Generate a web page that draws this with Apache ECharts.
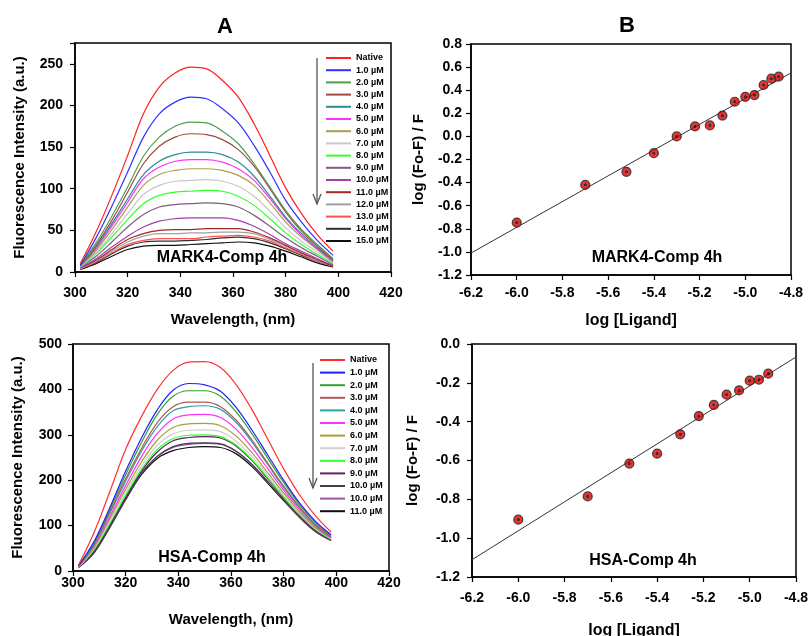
<!DOCTYPE html>
<html><head><meta charset="utf-8">
<script src="https://cdn.jsdelivr.net/npm/echarts@6/dist/echarts.min.js"></script>
<style>html,body{margin:0;padding:0;background:#fff}#c{width:809px;height:636px}</style>
</head><body><div id="c"></div>
<script>
// ---------- DATA ----------
const wavelengths = [302, 308, 314, 320, 326, 332, 338, 344, 350, 356, 362, 368, 374, 380, 386, 392, 398];

const markLabels = ['Native', '1.0 µM', '2.0 µM', '3.0 µM', '4.0 µM', '5.0 µM', '6.0 µM', '7.0 µM', '8.0 µM', '9.0 µM', '10.0 µM', '11.0 µM', '12.0 µM', '13.0 µM', '14.0 µM', '15.0 µM'];
const mkNative = [10, 48, 92, 140, 190, 222, 239, 246, 244, 230, 210, 178, 140, 101, 70, 45, 25];
const mk01 = [8, 41, 79, 120, 162, 190, 204, 210, 208, 196, 179, 152, 120, 86, 60, 38, 20];
const mk02 = [8, 35, 67, 102, 139, 162, 175, 180, 179, 169, 154, 130, 102, 74, 51, 33, 16];
const mk03 = [8, 32, 62, 96, 130, 151, 162, 166, 165, 159, 147, 127, 100, 72, 49, 31, 15];
const mk04 = [7, 30, 58, 88, 117, 133, 141, 144, 144, 141, 132, 115, 91, 66, 46, 29, 14];
const mk05 = [7, 28, 55, 84, 112, 126, 133, 135, 135, 132, 124, 110, 88, 64, 44, 28, 13];
const mk06 = [7, 26, 51, 78, 104, 117, 122, 124, 124, 122, 116, 104, 83, 60, 42, 27, 12];
const mk07 = [6, 24, 46, 70, 93, 104, 109, 110, 111, 109, 103, 91, 73, 53, 37, 24, 11];
const mk08 = [6, 22, 42, 63, 82, 92, 96, 97, 98, 97, 91, 80, 64, 47, 33, 21, 10];
const mk09 = [6, 19, 36, 54, 69, 78, 81, 82, 83, 82, 78, 68, 55, 41, 29, 19, 9];
const mk10 = [5, 16, 30, 43, 54, 61, 64, 65, 65, 65, 62, 55, 45, 34, 25, 16, 8];
const mk11 = [5, 14, 27, 39, 46, 50, 51, 51, 52, 52, 52, 48, 41, 32, 23, 15, 7];
const mk12 = [4, 13, 25, 36, 43, 46, 46, 47, 47, 48, 48, 46, 39, 31, 22, 14, 7];
const mk13 = [4, 12, 23, 33, 38, 40, 40, 40, 42, 43, 44, 42, 37, 29, 21, 13, 7];
const mk14 = [4, 11, 22, 31, 36, 37, 37, 38, 39, 41, 42, 40, 35, 28, 20, 13, 6];
const mk15 = [3, 10, 19, 27, 31, 32, 32, 33, 34, 35, 36, 35, 31, 25, 18, 11, 6];

const hsaLabels = ['Native', '1.0 µM', '2.0 µM', '3.0 µM', '4.0 µM', '5.0 µM', '6.0 µM', '7.0 µM', '8.0 µM', '9.0 µM', '10.0 µM', '10.0 µM', '11.0 µM'];
const hsNative = [12, 85, 175, 268, 340, 400, 442, 460, 461, 448, 410, 355, 290, 225, 168, 122, 86];
const hs01 = [11, 65, 140, 220, 293, 355, 398, 413, 410, 396, 360, 310, 255, 200, 150, 110, 80];
const hs02 = [10, 62, 135, 212, 283, 345, 385, 397, 397, 385, 350, 302, 248, 195, 146, 107, 78];
const hs03 = [10, 60, 130, 203, 270, 327, 362, 372, 372, 362, 332, 288, 237, 187, 141, 103, 76];
const hs04 = [10, 58, 127, 198, 264, 318, 353, 362, 364, 356, 327, 284, 234, 184, 139, 102, 75];
const hs05 = [9, 55, 120, 188, 252, 303, 335, 344, 345, 338, 312, 272, 225, 178, 135, 99, 73];
const hs06 = [9, 52, 115, 180, 240, 288, 316, 324, 325, 320, 297, 260, 216, 172, 130, 96, 72];
const hs07 = [8, 50, 110, 173, 231, 277, 302, 310, 311, 307, 286, 252, 210, 167, 127, 94, 71];
const hs08 = [8, 47, 105, 167, 224, 268, 292, 299, 300, 296, 277, 245, 205, 163, 124, 92, 70];
const hs09 = [8, 45, 102, 163, 220, 262, 287, 294, 296, 293, 275, 243, 203, 162, 123, 91, 69];
const hs10a = [7, 42, 99, 160, 216, 253, 274, 281, 282, 280, 264, 235, 197, 158, 120, 89, 68];
const hs10b = [7, 42, 98, 159, 215, 252, 272, 279, 281, 279, 263, 234, 196, 157, 119, 88, 67];
const hs11 = [7, 40, 96, 157, 212, 248, 265, 272, 274, 272, 258, 230, 193, 155, 118, 87, 67];

const ligandMark = [-6.0, -5.70, -5.52, -5.40, -5.30, -5.22, -5.155, -5.10, -5.046, -5.0, -4.96, -4.92, -4.886, -4.854];
const quenchMark = [-0.746, -0.42, -0.307, -0.145, 0.0, 0.086, 0.095, 0.18, 0.30, 0.343, 0.358, 0.445, 0.50, 0.517];
const fitMarkX = [-6.2, -4.8];
const fitMarkY = [-1.01, 0.55];

const ligandHsa = [-6.0, -5.70, -5.52, -5.40, -5.30, -5.22, -5.155, -5.10, -5.046, -5.0, -4.96, -4.92];
const quenchHsa = [-0.905, -0.785, -0.616, -0.565, -0.465, -0.371, -0.314, -0.261, -0.239, -0.189, -0.184, -0.153];
const fitHsaX = [-6.2, -4.8];
const fitHsaY = [-1.111, -0.067];

// ---------- STYLES ----------
const markColors = ['#ff2020', '#3030ff', '#4e9e4e', '#a04848', '#2a8c8c', '#ff30ff', '#a8a050', '#c8c8c8', '#30ff30', '#805a80', '#a040a8', '#a02828', '#a0a0a0', '#ff5050', '#303030', '#101010'];
const hsaColors = ['#ff3030', '#2020ff', '#30a030', '#b05858', '#30a0a0', '#ff30ff', '#a8a030', '#d0d0d0', '#30ff30', '#602060', '#404040', '#a050a8', '#101010'];
const markSpectra = [mkNative, mk01, mk02, mk03, mk04, mk05, mk06, mk07, mk08, mk09, mk10, mk11, mk12, mk13, mk14, mk15];
const hsaSpectra = [hsNative, hs01, hs02, hs03, hs04, hs05, hs06, hs07, hs08, hs09, hs10a, hs10b, hs11];

const FONT = '"Liberation Sans", Arial, sans-serif';
const ZW = '\u200b';
const hsaNames = hsaLabels.map((n, i) => n + ZW.repeat(i === 11 ? 2 : 1));

function axis(o) {
  return {
    type: 'value', gridIndex: o.grid, min: o.min, max: o.max, interval: o.interval,
    name: o.name, nameLocation: 'middle', nameGap: o.nameGap,
    nameTextStyle: { color: '#000', fontFamily: FONT, fontWeight: 'bold', fontSize: o.nameSize || 15 },
    axisLine: { show: true, onZero: false, lineStyle: { color: '#000', width: 1.5 } },
    axisTick: { show: true, inside: false, length: 5, lineStyle: { color: '#000', width: 1.2 } },
    splitLine: { show: false },
    axisLabel: {
      color: '#000', fontFamily: FONT, fontWeight: 'bold', fontSize: 14, margin: o.margin,
      showMaxLabel: o.showMax !== false, formatter: o.fmt
    }
  };
}
const f1 = v => (Math.abs(v) < 1e-9 ? '0.0' : v.toFixed(1));
const fi = v => (v > 260 ? '' : String(Math.round(v)));

const series = [];
markSpectra.forEach((vals, i) => {
  series.push({
    type: 'line', name: markLabels[i], xAxisIndex: 0, yAxisIndex: 0,
    data: wavelengths.map((w, j) => [w, vals[j]]), smooth: 0.35, symbol: 'none', showSymbol: false,
    lineStyle: { width: 1.2, color: markColors[i] }, itemStyle: { color: markColors[i] }, z: 20 - i
  });
});
hsaSpectra.forEach((vals, i) => {
  series.push({
    type: 'line', name: hsaNames[i], xAxisIndex: 2, yAxisIndex: 2,
    data: wavelengths.map((w, j) => [w, vals[j]]), smooth: 0.35, symbol: 'none', showSymbol: false,
    lineStyle: { width: 1.2, color: hsaColors[i] }, itemStyle: { color: hsaColors[i] }, z: 20 - i
  });
});
const dot = {
  type: 'radial', x: 0.5, y: 0.5, r: 0.5,
  colorStops: [{ offset: 0, color: '#000' }, { offset: 0.25, color: '#000' }, { offset: 0.32, color: '#e00000' }, { offset: 1, color: '#e00000' }]
};
series.push({
  type: 'line', name: 'fitMark', xAxisIndex: 1, yAxisIndex: 1, data: fitMarkX.map((x, i) => [x, fitMarkY[i]]),
  symbol: 'none', lineStyle: { color: '#333', width: 1 }, z: 2
});
series.push({
  type: 'scatter', name: 'ptsMark', xAxisIndex: 1, yAxisIndex: 1, data: ligandMark.map((x, i) => [x, quenchMark[i]]),
  symbolSize: 9, itemStyle: { color: dot, borderColor: '#222', borderWidth: 1.2 }, z: 5
});
series.push({
  type: 'line', name: 'fitHsa', xAxisIndex: 3, yAxisIndex: 3, data: fitHsaX.map((x, i) => [x, fitHsaY[i]]),
  symbol: 'none', lineStyle: { color: '#333', width: 1 }, z: 2
});
series.push({
  type: 'scatter', name: 'ptsHsa', xAxisIndex: 3, yAxisIndex: 3, data: ligandHsa.map((x, i) => [x, quenchHsa[i]]),
  symbolSize: 9, itemStyle: { color: dot, borderColor: '#222', borderWidth: 1.2 }, z: 5
});

const gridBase = { show: true, borderColor: '#000', borderWidth: 1.5, backgroundColor: 'transparent', containLabel: false, outerBoundsMode: 'none' };
const legendBase = {
  orient: 'vertical', itemWidth: 25, itemHeight: 2, icon: 'rect', selectedMode: false, padding: 0,
  formatter: n => n.replace(/\u200b/g, ''),
  textStyle: { fontFamily: FONT, fontWeight: 'bold', fontSize: 9, color: '#000', lineHeight: 11 }
};
const txt = (x, y, t, size) => ({
  type: 'text', x: x, y: y, z: 100,
  style: { text: t, font: 'bold ' + size + 'px ' + FONT, fill: '#000', align: 'center', verticalAlign: 'middle' }
});
const arrow = (x, y1, y2) => [
  { type: 'line', z: 100, shape: { x1: x, y1: y1, x2: x, y2: y2 }, style: { stroke: '#555', lineWidth: 1.3 } },
  { type: 'polyline', z: 100, shape: { points: [[x - 4, y2 - 10], [x, y2], [x + 4, y2 - 10]] }, style: { stroke: '#555', lineWidth: 1.3, fill: null } }
];

const option = {
  animation: false,
  backgroundColor: '#fff',
  grid: [
    Object.assign({ left: 75, top: 43, width: 316, height: 229 }, gridBase),
    Object.assign({ left: 471, top: 44, width: 320, height: 231 }, gridBase),
    Object.assign({ left: 73, top: 344, width: 316, height: 227 }, gridBase),
    Object.assign({ left: 472, top: 344, width: 324, height: 233 }, gridBase)
  ],
  xAxis: [
    axis({ grid: 0, min: 300, max: 420, interval: 20, name: 'Wavelength, (nm)', nameGap: 40, margin: 14 }),
    axis({ grid: 1, min: -6.2, max: -4.8, interval: 0.2, name: 'log [Ligand]', nameGap: 38, margin: 11, fmt: f1, nameSize: 16 }),
    axis({ grid: 2, min: 300, max: 420, interval: 20, name: 'Wavelength, (nm)', nameGap: 41, margin: 5 }),
    axis({ grid: 3, min: -6.2, max: -4.8, interval: 0.2, name: 'log [Ligand]', nameGap: 46, margin: 14, fmt: f1, nameSize: 16 })
  ],
  yAxis: [
    axis({ grid: 0, min: 0, max: 275, interval: 50, name: 'Fluorescence Intensity (a.u.)', nameGap: 48, margin: 12, fmt: fi }),
    axis({ grid: 1, min: -1.2, max: 0.8, interval: 0.2, name: 'log (Fo-F) / F', nameGap: 45, margin: 9, fmt: f1 }),
    axis({ grid: 2, min: 0, max: 500, interval: 100, name: 'Fluorescence Intensity (a.u.)', nameGap: 48, margin: 11 }),
    axis({ grid: 3, min: -1.2, max: 0.0, interval: 0.2, name: 'log (Fo-F) / F', nameGap: 52, margin: 12, fmt: f1 })
  ],
  legend: [
    Object.assign({ data: markLabels, left: 326, top: 52.5, itemGap: 1.2 }, legendBase),
    Object.assign({ data: hsaNames, left: 320, top: 354.5, itemGap: 1.6 }, legendBase)
  ],
  graphic: [
    txt(225, 27, 'A', 22),
    txt(627, 26, 'B', 22),
    txt(222, 258, 'MARK4-Comp 4h', 16),
    txt(657, 258, 'MARK4-Comp 4h', 16),
    txt(212, 558, 'HSA-Comp 4h', 16),
    txt(643, 561, 'HSA-Comp 4h', 16)
  ].concat(arrow(317, 58, 204), arrow(313, 363, 488)),
  series: series
};

const chart = echarts.init(document.getElementById('c'), null, { renderer: 'canvas' });
chart.setOption(option);
</script>
</body></html>
